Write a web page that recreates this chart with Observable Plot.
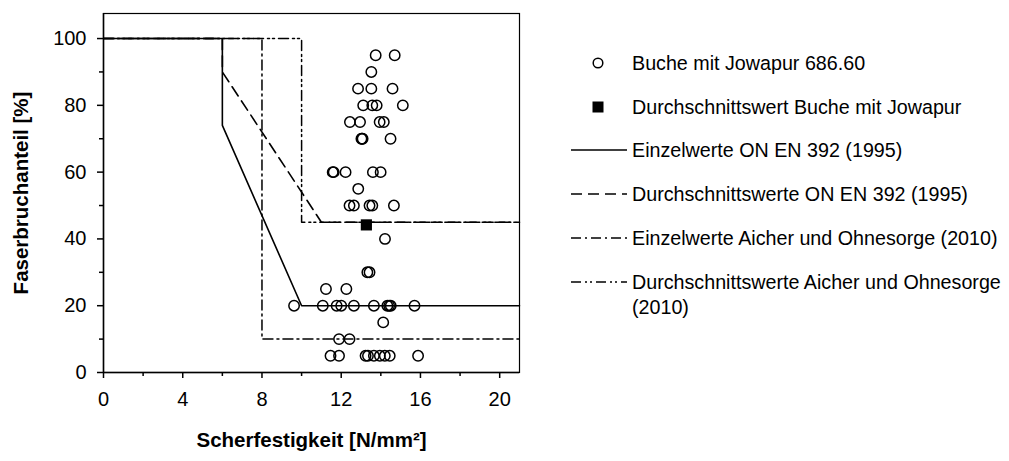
<!DOCTYPE html>
<html>
<head>
<meta charset="utf-8">
<script src="https://cdn.jsdelivr.net/npm/d3@7"></script>
<script src="https://cdn.jsdelivr.net/npm/@observablehq/plot@0.6"></script>
<style>
  html, body { margin: 0; padding: 0; background: #fff; }
  #wrap { position: relative; width: 1009px; height: 461px; font-family: "Liberation Sans", Arial, sans-serif; }
  #legend { position: absolute; left: 0; top: 0; width: 1009px; height: 461px; pointer-events: none; }
</style>
</head>
<body>
<div id="wrap"></div>
<script>
// ---- data ----
const xTicks = [0, 4, 8, 12, 16, 20];
const xMinorTicks = [2, 6, 10, 14, 18];
const yTicks = [0, 20, 40, 60, 80, 100];
const yMinorTicks = [10, 30, 50, 70, 90];

// Buche mit Jowapur 686.60 (Scherfestigkeit, Faserbruchanteil)
const bucheX = [13.74, 14.70, 13.52, 12.85, 13.52, 14.59, 13.11, 13.57, 13.79, 15.11,
  12.44, 12.95, 13.94, 14.15, 13.02, 13.05, 13.08, 14.49,
  11.57, 11.62, 12.22, 13.60, 13.99, 12.86,
  12.42, 12.64, 13.43, 13.57, 14.66, 14.21, 13.32, 13.43, 11.23, 12.26,
  9.62, 11.07, 11.77, 12.00, 12.64, 13.65, 14.33, 14.42, 14.50, 15.70,
  14.12, 11.89, 12.42,
  11.46, 11.89, 13.23, 13.35, 13.65, 13.95, 14.20, 14.45, 15.88];
const bucheY = [95, 95, 90, 85, 85, 85, 80, 80, 80, 80,
  75, 75, 75, 75, 70, 70, 70, 70,
  60, 60, 60, 60, 60, 55,
  50, 50, 50, 50, 50, 40, 30, 30, 25, 25,
  20, 20, 20, 20, 20, 20, 20, 20, 20, 20,
  15, 10, 10,
  5, 5, 5, 5, 5, 5, 5, 5, 5];

const meanX = [13.27];
const meanY = [44.2];

const einzelOnX = [0, 6, 6, 10, 21];
const einzelOnY = [100, 100, 74, 20, 20];
const durchOnX = [0, 6, 6, 11, 21];
const durchOnY = [100, 100, 90, 45, 45];
const einzelAicherX = [0, 8, 8, 21];
const einzelAicherY = [100, 100, 10, 10];
const durchAicherX = [0, 10, 10, 21];
const durchAicherY = [100, 100, 45, 45];

const legendLabels = [
  "Buche mit Jowapur 686.60",
  "Durchschnittswert Buche mit Jowapur",
  "Einzelwerte ON EN 392 (1995)",
  "Durchschnittswerte ON EN 392 (1995)",
  "Einzelwerte Aicher und Ohnesorge (2010)",
  "Durchschnittswerte Aicher und Ohnesorge (2010)"
];
const xTitle = "Scherfestigkeit [N/mm²]";
const yTitle = "Faserbruchanteil [%]";

// ---- build ----
const toPts = (xs, ys) => xs.map((x, i) => ({x, y: ys[i]}));
const pts = toPts(bucheX, bucheY);
const mean = toPts(meanX, meanY);

const dashStyles = {
  solid: null,
  dash: "11,6",
  dashdot: "10,4,2,4",
  dashdotdot: "10,4,2,3,2,4"
};

const FONT = "'Liberation Sans', Arial, sans-serif";

const chart = Plot.plot({
  width: 1009,
  height: 461,
  marginLeft: 103,
  marginRight: 490,
  marginTop: 13,
  marginBottom: 89,
  style: {fontFamily: FONT, fontSize: "20px", color: "#000", background: "#fff"},
  x: {domain: [0, 21]},
  y: {domain: [0, 107.5]},
  marks: [
    Plot.line(toPts(einzelAicherX, einzelAicherY), {x: "x", y: "y", stroke: "#000", strokeWidth: 1.5, strokeDasharray: dashStyles.dashdot}),
    Plot.line(toPts(durchAicherX, durchAicherY), {x: "x", y: "y", stroke: "#000", strokeWidth: 1.5, strokeDasharray: dashStyles.dashdotdot}),
    Plot.line(toPts(durchOnX, durchOnY), {x: "x", y: "y", stroke: "#000", strokeWidth: 1.6, strokeDasharray: dashStyles.dash}),
    Plot.line(toPts(einzelOnX, einzelOnY), {x: "x", y: "y", stroke: "#000", strokeWidth: 1.6}),
    Plot.dot(pts, {x: "x", y: "y", r: 5.2, stroke: "#000", strokeWidth: 1.5, fill: "none"}),
    Plot.dot(mean, {x: "x", y: "y", symbol: "square", r: 6.3, fill: "#000", stroke: "none"}),
    Plot.frame({stroke: "#000", strokeWidth: 1.2}),
    Plot.axisX({ticks: xTicks, tickSize: 6, tickPadding: 13, fontSize: 20, label: null, strokeWidth: 1.5}),
    Plot.axisX({ticks: xMinorTicks, tickSize: 4, tickFormat: () => "", label: null, strokeWidth: 1.5}),
    Plot.axisY({ticks: yTicks, tickSize: 6, tickPadding: 11, fontSize: 20, label: null, strokeWidth: 1.5}),
    Plot.axisY({ticks: yMinorTicks, tickSize: 4, tickFormat: () => "", label: null, strokeWidth: 1.5}),
    Plot.ruleX([0], {stroke: "#000", strokeWidth: 1.5}),
    Plot.ruleY([0], {stroke: "#000", strokeWidth: 1.5}),
    Plot.text([xTitle], {frameAnchor: "bottom", dy: 74, textAnchor: "middle", fontWeight: "bold", fontSize: 20.5, fill: "#000"}),
    Plot.text([yTitle], {frameAnchor: "left", dx: -82, textAnchor: "middle", rotate: -90, fontWeight: "bold", fontSize: 20.5, fill: "#000"})
  ]
});

const wrap = document.getElementById("wrap");
wrap.appendChild(chart);

// ---- legend overlay ----
const ns = "http://www.w3.org/2000/svg";
const lg = document.createElementNS(ns, "svg");
lg.setAttribute("id", "legend");
lg.setAttribute("width", 1009);
lg.setAttribute("height", 461);
wrap.appendChild(lg);

const rowY = [63, 107, 150, 194, 238, 282];
const symX0 = 571, symX1 = 627, symCx = 598, textX = 632;
function el(tag, attrs) {
  const e = document.createElementNS(ns, tag);
  for (const k in attrs) e.setAttribute(k, attrs[k]);
  lg.appendChild(e);
  return e;
}
el("circle", {cx: symCx, cy: rowY[0], r: 4.8, fill: "none", stroke: "#000", "stroke-width": 1.5});
el("rect", {x: symCx - 5.5, y: rowY[1] - 5.5, width: 11, height: 11, fill: "#000"});
const lineStyles = [dashStyles.solid, dashStyles.dash, dashStyles.dashdot, dashStyles.dashdotdot];
lineStyles.forEach((d, i) => {
  const a = {x1: symX0, x2: symX1, y1: rowY[i + 2], y2: rowY[i + 2], stroke: "#000", "stroke-width": 1.6};
  if (d) a["stroke-dasharray"] = d;
  el("line", a);
});
legendLabels.forEach((t, i) => {
  const lines = i === 5 ? ["Durchschnittswerte Aicher und Ohnesorge", "(2010)"] : [t];
  lines.forEach((s, j) => {
    const tx = el("text", {x: textX, y: rowY[i] + j * 25, "font-family": FONT, "font-size": 19.7, fill: "#000", "dominant-baseline": "central"});
    tx.textContent = s;
  });
});
</script>
</body>
</html>
